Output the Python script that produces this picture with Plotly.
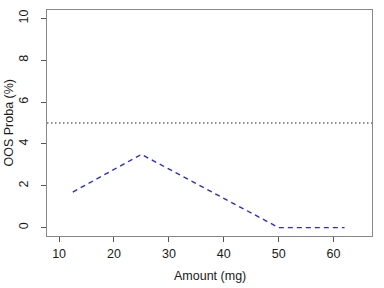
import plotly.graph_objects as go

amount = [12.5, 25, 50, 62]
proba = [1.7, 3.5, 0.0, 0.0]
threshold = 5
x_ticks = [10, 20, 30, 40, 50, 60]
y_ticks = [0, 2, 4, 6, 8, 10]

fig = go.Figure()
fig.add_trace(go.Scatter(x=[7.8, 67], y=[threshold, threshold], mode="lines",
                         line=dict(color="#222222", width=1.2, dash="1.5px,2.5px"),
                         hoverinfo="skip", showlegend=False))
fig.add_trace(go.Scatter(x=amount, y=proba, mode="lines",
                         line=dict(color="#2b2bd9", width=1.4, dash="5px,4px"),
                         showlegend=False))

font = dict(family="Liberation Sans, Arial, sans-serif", size=12.5, color="#1a1a1a")
fig.update_layout(
    width=384, height=288,
    margin=dict(l=47, r=12, t=10, b=52),
    paper_bgcolor="white", plot_bgcolor="white",
    font=font,
    xaxis=dict(range=[7.8, 67], tickvals=x_ticks, ticks="outside", ticklen=5,
               tickcolor="#555555", showline=True, mirror=True, linecolor="#888888",
               linewidth=1, showgrid=False, zeroline=False, automargin=False,
               tickfont=dict(size=12.5, color="#1a1a1a"),
               ticklabelstandoff=1),
    yaxis=dict(range=[-0.4, 10.4], tickvals=y_ticks, ticks="outside", ticklen=5,
               tickcolor="#555555", showline=True, mirror=True, linecolor="#888888",
               linewidth=1, showgrid=False, zeroline=False, tickangle=-90,
               automargin=False,
               tickfont=dict(size=12.5, color="#1a1a1a"),
               ticklabelstandoff=8),
    annotations=[
        dict(text="Amount (mg)", xref="paper", yref="paper", x=0.5, y=0,
             xanchor="center", yanchor="middle", yshift=-40, showarrow=False,
             font=dict(size=12.5, color="#1a1a1a")),
        dict(text="OOS Proba (%)", xref="paper", yref="paper", x=0, y=0.5,
             xanchor="center", yanchor="middle", xshift=-38.5, textangle=-90,
             showarrow=False, font=dict(size=12.5, color="#1a1a1a")),
    ],
)
fig.write_html("out.html")
